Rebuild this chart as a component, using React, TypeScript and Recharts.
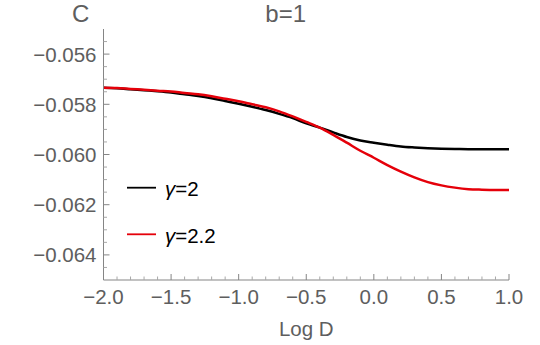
import React from 'react';
import { LineChart, Line, XAxis, YAxis, Legend } from 'recharts';

// Log D sample points
const logD = [
  -2.0, -1.9, -1.8, -1.7, -1.6, -1.5, -1.4, -1.3, -1.2, -1.1, -1.0,
  -0.9, -0.8, -0.7, -0.6, -0.5, -0.4, -0.3, -0.2, -0.1, 0.0,
  0.1, 0.2, 0.3, 0.4, 0.5, 0.6, 0.7, 0.8, 0.9, 1.0,
];

// C for gamma = 2 (black)
const cGamma2 = [
  -0.05734, -0.05736, -0.0574, -0.05744, -0.05748, -0.05753, -0.0576, -0.05767, -0.05776, -0.05787, -0.05798,
  -0.0581, -0.05823, -0.05838, -0.05855, -0.05876, -0.05893, -0.05912, -0.0593, -0.05944, -0.05953,
  -0.05961, -0.05968, -0.05972, -0.05975, -0.05977, -0.05978, -0.05979, -0.05979, -0.05979, -0.05979,
];

// C for gamma = 2.2 (red)
const cGamma22 = [
  -0.05734, -0.05735, -0.05739, -0.05742, -0.05746, -0.05749, -0.05755, -0.0576, -0.05768, -0.05778, -0.05788,
  -0.058, -0.05812, -0.05828, -0.05848, -0.0587, -0.05893, -0.05922, -0.05953, -0.05985, -0.06013,
  -0.06042, -0.06068, -0.06091, -0.0611, -0.06123, -0.06132, -0.06138, -0.0614, -0.06141, -0.06141,
];

const seriesNames = ['γ=2', 'γ=2.2'];
const seriesColors = ['#000000', '#e5000a'];

const xMajor = [-2, -1.5, -1, -0.5, 0, 0.5, 1];
const xLabels = ['−2.0', '−1.5', '−1.0', '−0.5', '0.0', '0.5', '1.0'];
const xMinor = [
  -1.9, -1.8, -1.7, -1.6, -1.4, -1.3, -1.2, -1.1, -0.9, -0.8, -0.7, -0.6,
  -0.4, -0.3, -0.2, -0.1, 0.1, 0.2, 0.3, 0.4, 0.6, 0.7, 0.8, 0.9,
];

const yMajor = [-0.064, -0.062, -0.06, -0.058, -0.056];
const yLabels = ['−0.064', '−0.062', '−0.060', '−0.058', '−0.056'];
const yMinor = [
  -0.0645, -0.0635, -0.063, -0.0625, -0.0615, -0.061, -0.0605,
  -0.0595, -0.059, -0.0585, -0.0575, -0.057, -0.0565, -0.0555,
];

const data = logD.map((x, i) => ({ x, g2: cGamma2[i], g22: cGamma22[i] }));

const FONT = '"Liberation Sans", Arial, sans-serif';
const FS = 20.5;
const FS_TITLE = 24;
const FRAME = '#858585';
const TEXT = '#5e5e5e';

const findMajor = (list: number[], v: number) => list.findIndex(m => Math.abs(m - v) < 1e-9);

const makeTick = (side: 'bottom' | 'top' | 'left' | 'right') => (props: any) => {
  const { x, y, payload } = props;
  const v = payload.value;
  const isX = side === 'bottom' || side === 'top';
  const idx = findMajor(isX ? xMajor : yMajor, v);
  const len = idx >= 0 ? 6 : 3.5;
  const col = idx >= 0 ? FRAME : '#a8a8a8';
  let line;
  if (side === 'bottom') line = <line x1={x} y1={y} x2={x} y2={y - len} stroke={col} />;
  else if (side === 'top') line = <line x1={x} y1={y} x2={x} y2={y + len} stroke={col} />;
  else if (side === 'left') line = <line x1={x} y1={y} x2={x + len} y2={y} stroke={col} />;
  else line = <line x1={x} y1={y} x2={x - len} y2={y} stroke={col} />;
  let label = null;
  if (idx >= 0 && side === 'bottom') {
    label = (
      <text x={x} y={y + 23.5} textAnchor="middle" fill={TEXT} fontSize={FS} fontFamily={FONT}>
        {xLabels[idx]}
      </text>
    );
  }
  if (idx >= 0 && side === 'left') {
    label = (
      <text x={x - 7} y={y + 7.5} textAnchor="end" fill={TEXT} fontSize={FS} fontFamily={FONT}>
        {yLabels[idx]}
      </text>
    );
  }
  return (
    <g>
      {line}
      {label}
    </g>
  );
};

const renderLegend = (props: any) => {
  const { payload } = props;
  return (
    <svg width={140} height={80}>
      {(payload || []).map((p: any, i: number) => {
        const name = String(p.value);
        return (
          <g key={name}>
            <line x1={7} y1={12.7 + i * 46.6} x2={36} y2={12.7 + i * 46.6} stroke={p.color} strokeWidth={1.8} />
            <text x={45} y={21 + i * 46.6} fontSize={FS} fontFamily={FONT} fill="#000">
              <tspan fontStyle="italic">{name.slice(0, 1)}</tspan>
              {name.slice(1)}
            </text>
          </g>
        );
      })}
    </svg>
  );
};

export default function App() {
  return (
    <div style={{ position: 'absolute', left: 0, top: 0, width: 540, height: 345, background: '#fff' }}>
      <LineChart
        width={540}
        height={345}
        data={data}
        margin={{ top: 29, right: 31, bottom: 0, left: 0 }}
      >
        <XAxis
          xAxisId="b"
          dataKey="x"
          type="number"
          domain={[-2, 1]}
          ticks={[...xMajor, ...xMinor]}
          interval={0}
          tickSize={0}
          tickMargin={0}
          tickLine={false}
          axisLine={{ stroke: FRAME }}
          tick={makeTick('bottom')}
          height={65}
          allowDataOverflow
          label={(p: any) => {
            const vb = p.viewBox;
            return (
              <text x={vb.x + vb.width / 2} y={vb.y + 55.5} textAnchor="middle" fill={TEXT} fontSize={FS} fontFamily={FONT}>
                Log D
              </text>
            );
          }}
        />
        <XAxis
          xAxisId="t"
          orientation="top"
          dataKey="x"
          type="number"
          domain={[-2, 1]}
          ticks={[...xMajor, ...xMinor]}
          interval={0}
          tickSize={0}
          tickMargin={0}
          tickLine={false}
          axisLine={{ stroke: FRAME }}
          tick={makeTick('top')}
          height={0}
          allowDataOverflow
        />
        <YAxis
          yAxisId="l"
          type="number"
          domain={[-0.065, -0.055]}
          ticks={[...yMajor, ...yMinor]}
          interval={0}
          tickSize={0}
          tickMargin={0}
          tickLine={false}
          axisLine={{ stroke: FRAME }}
          tick={makeTick('left')}
          width={103.5}
          allowDataOverflow
        />
        <YAxis
          yAxisId="r"
          orientation="right"
          type="number"
          domain={[-0.065, -0.055]}
          ticks={[...yMajor, ...yMinor]}
          interval={0}
          tickSize={0}
          tickMargin={0}
          tickLine={false}
          axisLine={{ stroke: FRAME }}
          tick={makeTick('right')}
          width={0}
          allowDataOverflow
        />
        <Legend
          layout="vertical"
          align="center"
          verticalAlign="middle"
          content={renderLegend}
          wrapperStyle={{ left: 120, top: 175, width: 140, height: 80 }}
        />
        <Line
          xAxisId="b"
          yAxisId="l"
          type="monotone"
          dataKey="g2"
          name={seriesNames[0]}
          stroke={seriesColors[0]}
          strokeWidth={2.5}
          dot={false}
          isAnimationActive={false}
        />
        <Line
          xAxisId="b"
          yAxisId="l"
          type="monotone"
          dataKey="g22"
          name={seriesNames[1]}
          stroke={seriesColors[1]}
          strokeWidth={2.5}
          dot={false}
          isAnimationActive={false}
        />
      </LineChart>
      <svg
        width={540}
        height={345}
        style={{ position: 'absolute', left: 0, top: 0, pointerEvents: 'none' }}
      >
        <text x={72} y={22.3} fill={TEXT} fontSize={FS_TITLE} fontFamily={FONT}>C</text>
        <text x={285.7} y={22.3} textAnchor="middle" fill={TEXT} fontSize={FS_TITLE} fontFamily={FONT}>b=1</text>
      </svg>
    </div>
  );
}
